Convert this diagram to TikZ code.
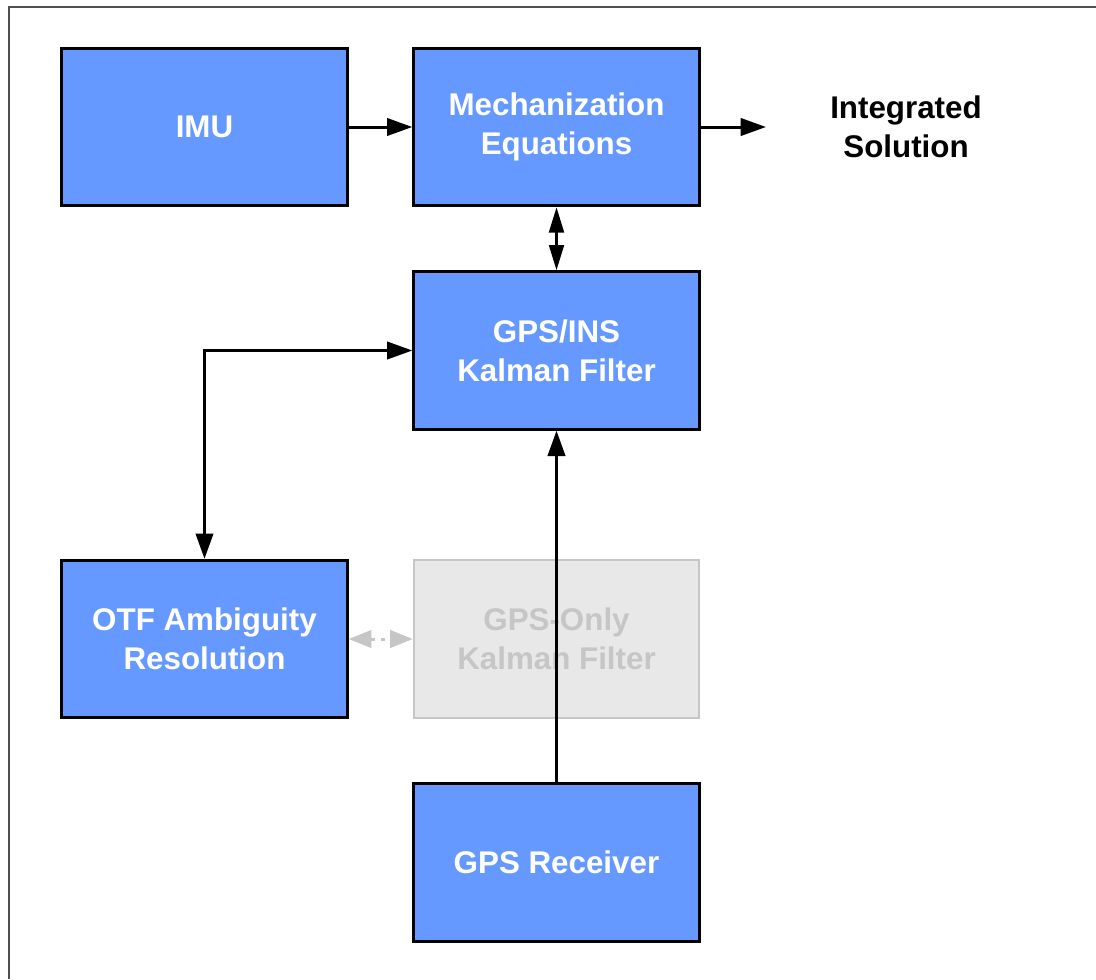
\documentclass[tikz,border=0pt]{standalone}
\usepackage{fontspec}
\setmainfont{Liberation Sans}
\usetikzlibrary{arrows.meta}
\definecolor{boxblue}{HTML}{6699FF}
\definecolor{ghostfill}{HTML}{E8E8E8}
\definecolor{ghostline}{HTML}{C6C6C6}
\definecolor{framegray}{HTML}{505050}
\begin{document}
\begin{tikzpicture}[x=0.75pt, y=-0.75pt]
		\tikzset{block/.style={rectangle, draw=black, line width=2.25pt, fill=boxblue, text=white,
				minimum width=214pt, minimum height=118pt, align=center,
				font=\fontsize{23.5}{29}\selectfont\bfseries}}
		\tikzset{ghost/.style={block, draw=ghostline, line width=1.5pt, fill=ghostfill, text=ghostline}}
		\tikzset{flow/.style={line width=2.25pt, -{Triangle[length=19pt, width=13pt]}}}
		\useasboundingbox (0,0) rectangle (1096,979);
		% frame along top and left
		\draw[framegray, line width=1.5pt] (1096,6.5) -- (9,6.5) -- (9,979);

		\node[block] at (204.5, 127) (imu) {IMU};
		\node[block] at (556.5, 127) (mech) {Mechanization\\Equations};
		\node[block] at (556.5, 350.5) (kf) {GPS/INS\\Kalman Filter};
		\node[block] at (204.5, 639) (otf) {OTF Ambiguity\\Resolution};
		\node[ghost] at (556.5, 639) (gpsonly) {GPS-Only\\Kalman Filter};
		\node[block] at (556.5, 862.5) (rcv) {GPS Receiver};
		\node[font=\fontsize{23.5}{29}\selectfont\bfseries, align=center] at (906, 127) (sol) {Integrated\\Solution};
		\coordinate (solin) at (766, 127);

			\draw[flow] (imu) -- (mech);
			\draw[flow] (mech) -- (solin);
			\draw[flow, {Triangle[length=19pt, width=11pt]}-{Triangle[length=19pt, width=11pt]}] (mech) -- (kf);
			\draw[flow, {Triangle[length=19pt, width=13pt]}-{Triangle[length=19pt, width=13pt]}] (kf.west) -| (otf.north);

			% receiver feeds the filter straight through
			\draw[flow] (rcv.north) -- (kf.south);

			% inactive link
			\draw[ghostline, line width=2.25pt, dash pattern=on 3pt off 4.5pt,
				{Triangle[length=17pt, width=13pt]}-{Triangle[length=17pt, width=13pt]}] (otf.east) -- (gpsonly.west);

	\end{tikzpicture}
\end{document}
